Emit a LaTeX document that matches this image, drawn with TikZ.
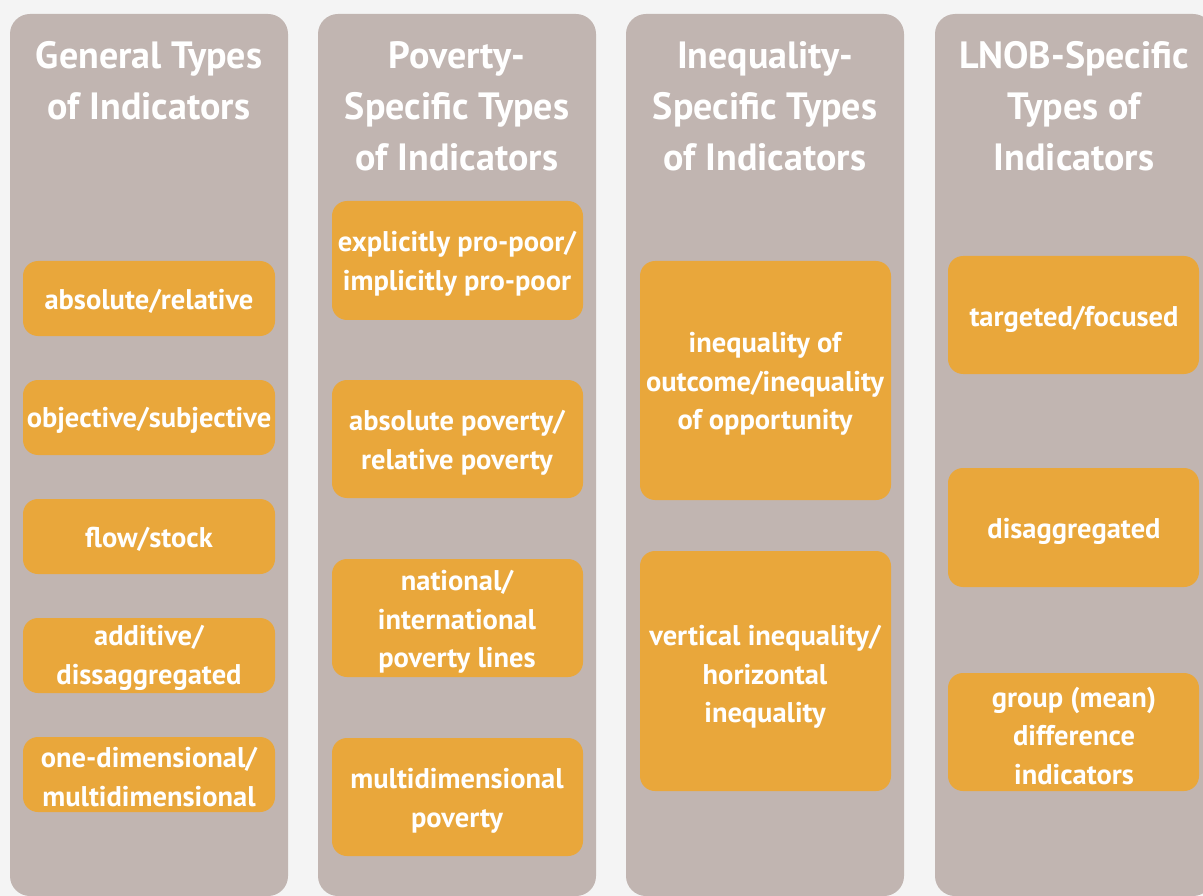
\documentclass[tikz,border=0pt]{standalone}
\usepackage{fontspec}
\setmainfont{PT Sans}
\definecolor{bgc}{HTML}{F4F4F4}
\definecolor{colc}{HTML}{C1B5B1}
\definecolor{orc}{HTML}{E9A73B}
\begin{document}
\begin{tikzpicture}[x=1pt,y=-1pt,
  column/.style={fill=colc,draw=none,rounded corners=20pt},
  header/.style={text=white,font=\bfseries\fontsize{38}{51}\selectfont,align=center,anchor=north,inner sep=0pt},
  itembox/.style={fill=orc,draw=none,rounded corners=15pt},
  itemtext/.style={text=white,font=\bfseries\fontsize{28.5}{38.5}\selectfont,align=center,inner sep=0pt}]
\fill[bgc] (0,0) rectangle (1203,896);
\useasboundingbox (0,0) rectangle (1203,896);
% columns
\foreach \x in {10,318,626,935}{
  \fill[column] (\x,14) rectangle (\x+278,896);
}
% headers
\node[header] (h1) at (149,41) {General Types\\of Indicators};
\node[header] (h2) at (457,41) {Poverty-\\Specific Types\\of Indicators};
\node[header] (h3) at (765,41) {Inequality-\\Specific Types\\of Indicators};
\node[header] (h4) at (1074,41) {LNOB-Specific\\Types of\\Indicators};
% column 1
\fill[itembox] (23,261) rectangle (275,336);
\node[itemtext] (a1) at (149,301) {absolute/relative};
\fill[itembox] (23,380) rectangle (275,455);
\node[itemtext] (a2) at (149,420) {objective/subjective};
\fill[itembox] (23,499) rectangle (275,574);
\node[itemtext] (a3) at (149,539) {flow/stock};
\fill[itembox] (23,618) rectangle (275,693);
\node[itemtext] (a4) at (149,658) {additive/\\dissaggregated};
\fill[itembox] (23,737) rectangle (275,812);
\node[itemtext] (a5) at (149,777) {one-dimensional/\\multidimensional};
% column 2
\fill[itembox] (332,201) rectangle (583,320);
\node[itemtext] (b1) at (457,264) {explicitly pro-poor/\\implicitly pro-poor};
\fill[itembox] (332,380) rectangle (583,498);
\node[itemtext] (b2) at (457,443) {absolute poverty/\\relative poverty};
\fill[itembox] (332,559) rectangle (583,677);
\node[itemtext] (b3) at (457,622) {national/\\international\\poverty lines};
\fill[itembox] (332,738) rectangle (583,856);
\node[itemtext] (b4) at (457,801) {multidimensional\\poverty};
% column 3
\fill[itembox] (640,261) rectangle (891,500);
\node[itemtext] (c1) at (765,384) {inequality of\\outcome/inequality\\of opportunity};
\fill[itembox] (640,551) rectangle (891,791);
\node[itemtext] (c2) at (765,677) {vertical inequality/\\horizontal\\inequality};
% column 4
\fill[itembox] (948,256) rectangle (1199,374);
\node[itemtext] (d1) at (1074,319) {targeted/focused};
\fill[itembox] (948,468) rectangle (1199,587);
\node[itemtext] (d2) at (1074,531) {disaggregated};
\fill[itembox] (948,673) rectangle (1199,791);
\node[itemtext] (d3) at (1074,736) {group (mean)\\difference\\indicators};
\end{tikzpicture}
\end{document}
